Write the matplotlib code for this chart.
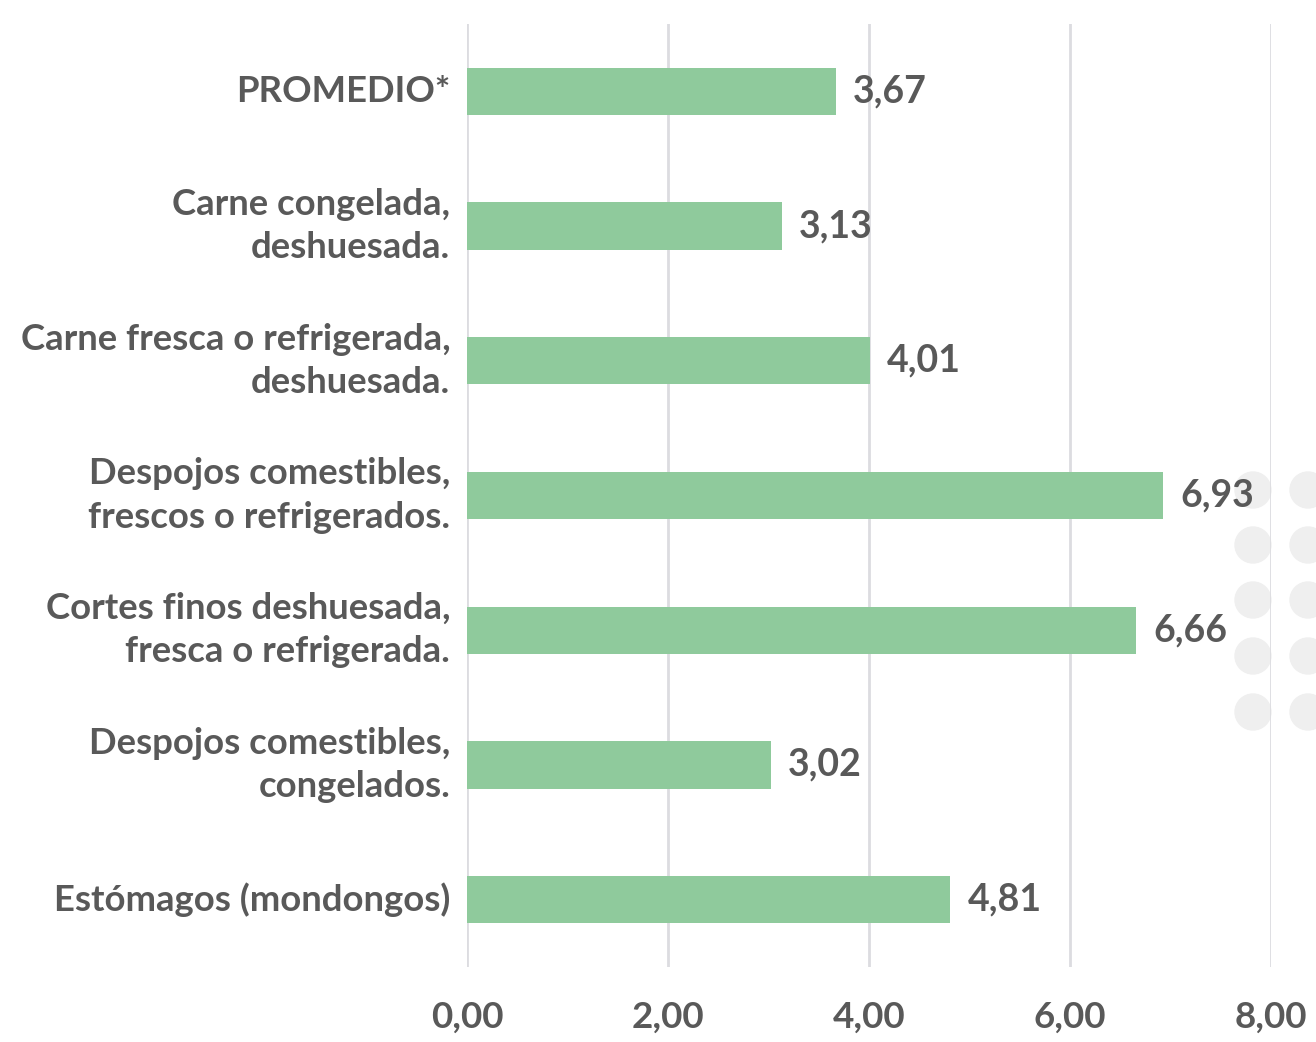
import matplotlib
matplotlib.use('Agg')
import matplotlib.pyplot as plt
from matplotlib.patches import Circle

plt.rcParams['font.family'] = ['Lato', 'DejaVu Sans']
plt.rcParams['font.weight'] = 'bold'

categorias = ['PROMEDIO*',
              'Carne congelada,\ndeshuesada.',
              'Carne fresca o refrigerada,\ndeshuesada.',
              'Despojos comestibles,\nfrescos o refrigerados.',
              'Cortes finos deshuesada,\nfresca o refrigerada.',
              'Despojos comestibles,\ncongelados.',
              'Estómagos (mondongos)']
valores = [3.67, 3.13, 4.01, 6.93, 6.66, 3.02, 4.81]
ticks_x = [0, 2, 4, 6, 8]

gris = '#595959'
verde = '#8fca9c'

fig = plt.figure(figsize=(13.16, 10.42), dpi=100)

# puntos decorativos a la derecha (en pulgadas)
for cx in [1253, 1308]:
    for cy in [490, 545, 600, 656, 712]:
        fig.patches.append(Circle((cx / 100, (1042 - cy) / 100), 0.18,
                                  transform=fig.dpi_scale_trans,
                                  color='#efefef', zorder=-1))

ax = fig.add_axes([467 / 1316, 75 / 1042, 804 / 1316, 943 / 1042])
ax.patch.set_alpha(0)

y = list(range(len(categorias)))
ax.barh(y, valores, height=0.35, color=verde, zorder=3)
for yi, v in zip(y, valores):
    ax.text(v + 0.17, yi, f'{v:.2f}'.replace('.', ','), va='center', ha='left',
            fontsize=27, color=gris, fontweight='bold', zorder=4)

ax.set_xlim(0, 8)
ax.set_ylim(6.5, -0.5)
ax.set_yticks(y)
ax.set_yticklabels(categorias, fontsize=26.3, color=gris, fontweight='bold',
                   linespacing=1.38)
for lab in ax.get_yticklabels():
    lab.set_verticalalignment('center')
ax.set_xticks(ticks_x)
ax.set_xticklabels([f'{t:.2f}'.replace('.', ',') for t in ticks_x],
                   fontsize=26.5, color=gris, fontweight='bold')
ax.tick_params(axis='both', length=0)
ax.tick_params(axis='x', pad=24)
ax.tick_params(axis='y', pad=12)
ax.grid(axis='x', color='#dcdce0', linewidth=2, zorder=1)
for s in ax.spines.values():
    s.set_visible(False)

fig.savefig('out.png', dpi=100)
